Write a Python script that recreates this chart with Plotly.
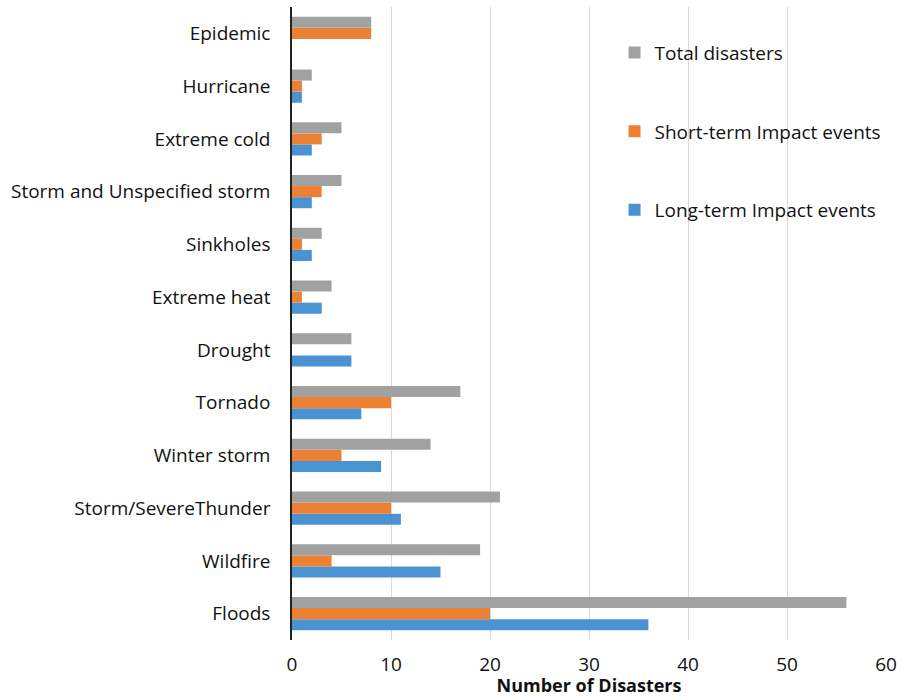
import plotly.graph_objects as go

categories = ["Floods", "Wildfire", "Storm/SevereThunder", "Winter storm", "Tornado",
              "Drought", "Extreme heat", "Sinkholes", "Storm and Unspecified storm",
              "Extreme cold", "Hurricane", "Epidemic"]
long_term = [36, 15, 11, 9, 7, 6, 3, 2, 2, 2, 1, 0]
short_term = [20, 4, 10, 5, 10, 0, 1, 1, 3, 3, 1, 8]
total = [56, 19, 21, 14, 17, 6, 4, 3, 5, 5, 2, 8]
x_ticks = [0, 10, 20, 30, 40, 50, 60]

FONT = "Open Sans, Lato, sans-serif"

fig = go.Figure()
# (name, values, colour, legend position)
series = [
    ("Long-term Impact events", long_term, "#4A93D3", 3),
    ("Short-term Impact events", short_term, "#EE8033", 2),
    ("Total disasters", total, "#A0A2A2", 1),
]
for name, vals, color, rank in series:
    fig.add_trace(go.Bar(
        y=categories, x=vals, name=name, orientation="h",
        marker=dict(color=color, line=dict(width=0)),
        legendgroup=f"g{rank}", legendrank=rank,
    ))

fig.update_layout(
    width=905, height=697,
    margin=dict(l=292, r=19, t=7, b=57),
    paper_bgcolor="white", plot_bgcolor="white",
    barmode="group", bargap=0.37, bargroupgap=0,
    font=dict(family=FONT, size=19, color="#111111"),
    legend=dict(
        x=0.543, y=0.958, xanchor="left", yanchor="top",
        traceorder="grouped", tracegroupgap=51,
        font=dict(size=19), itemwidth=30, bgcolor="rgba(0,0,0,0)",
    ),
    showlegend=True,
)
fig.update_xaxes(
    range=[0, 60], tickvals=x_ticks, showgrid=True, gridcolor="#D9D9D9",
    gridwidth=1, zeroline=False, showline=False, ticks="",
    tickfont=dict(size=19), ticklabelstandoff=11,
    title=dict(text="<b>Number of Disasters</b>", font=dict(size=18), standoff=0),
)
fig.update_yaxes(
    showline=True, linecolor="#222222", linewidth=1.5, ticks="",
    tickfont=dict(size=19), ticklabelstandoff=16, showgrid=False,
)

fig.write_html("out.html")
